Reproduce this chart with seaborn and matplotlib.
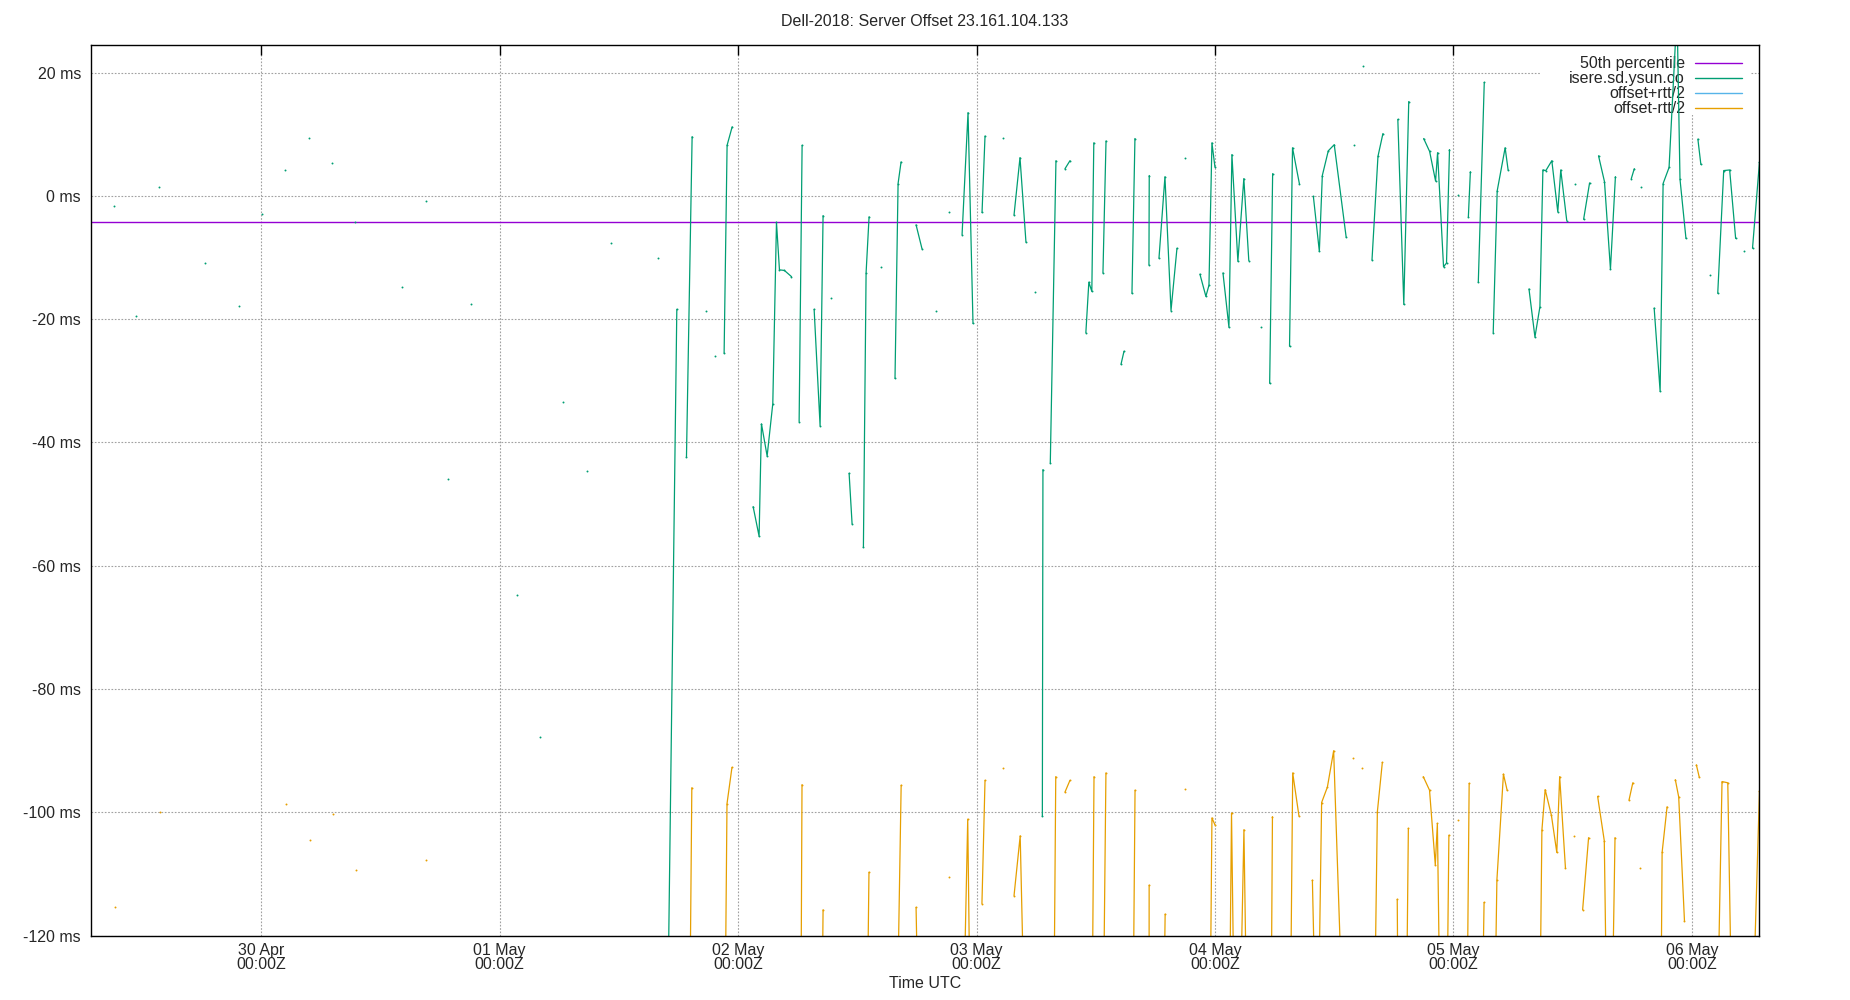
import numpy as np
import pandas as pd
import seaborn as sns
import matplotlib.pyplot as plt
from matplotlib.lines import Line2D
from matplotlib.patches import Rectangle

# time in hours relative to 2018-05-02 00:00 UTC, values in ms
base_time = pd.Timestamp('2018-05-02 00:00')
x_range_h = (-65.15, 102.75)
y_range_ms = (-120, 24.5)
p50_ms = -4.25

# isere.sd.ysun.co offset, one inner list per unbroken run of samples
offset_segments = [
    [(-62.8, -1.7)], [(-60.6, -19.5)], [(-58.3, 1.5)], [(-53.7, -10.9)],
    [(-50.2, -17.8)], [(-47.9, -2.9)], [(-45.6, 4.2)], [(-43.2, 9.4)],
    [(-40.9, 5.4)], [(-38.6, -4.2)], [(-33.8, -14.8)], [(-31.4, -0.8)],
    [(-29.2, -46.0)], [(-26.9, -17.6)], [(-22.3, -64.7)], [(-19.9, -87.8)],
    [(-17.6, -33.4)], [(-15.2, -44.6)], [(-12.8, -7.7)], [(-8.1, -10.0)],
    [(-7.1, -135.0), (-6.17, -18.4)],
    [(-5.2, -42.4), (-4.63, 9.6)],
    [(-3.22, -18.7)], [(-2.31, -25.9)],
    [(-1.41, -25.5), (-1.11, 8.2), (-0.60, 11.2)],
    [(1.51, -50.4), (2.11, -55.2), (2.35, -37.0), (2.92, -42.2), (3.49, -33.7),
     (3.86, -4.3), (4.16, -12.0), (4.66, -12.1), (5.37, -13.1)],
    [(6.14, -36.6), (6.44, 8.2)],
    [(7.65, -18.4), (8.25, -37.3), (8.55, -3.2)],
    [(9.36, -16.6)],
    [(11.17, -45.0), (11.47, -53.2)],
    [(12.61, -57.0), (12.88, -12.5), (13.18, -3.4)],
    [(14.39, -11.5)],
    [(15.79, -29.6), (16.10, 2.0), (16.40, 5.5)],
    [(17.91, -4.7), (18.51, -8.6)],
    [(19.92, -18.7)], [(21.23, -2.6)],
    [(22.54, -6.3), (23.14, 13.5), (23.64, -20.7)],
    [(24.55, -2.7), (24.85, 9.7)],
    [(26.66, 9.4)],
    [(27.77, -3.1), (28.37, 6.2), (28.97, -7.5)],
    [(29.88, -15.6)],
    [(30.62, -100.6), (30.68, -44.4)],
    [(31.42, -43.3), (31.99, 5.7)],
    [(32.9, 4.4), (33.4, 5.7)],
    [(35.0, -22.2), (35.3, -14.0), (35.6, -15.5), (35.8, 8.6)],
    [(36.72, -12.5), (37.03, 8.9)],
    [(38.54, -27.3), (38.84, -25.2)],
    [(39.64, -15.8), (39.94, 9.3)],
    [(41.35, -11.2), (41.38, 3.3)],
    [(42.36, -10.1), (42.96, 3.1), (43.57, -18.6), (44.17, -8.5)],
    [(44.97, 6.2)],
    [(46.48, -12.7), (47.08, -16.3), (47.39, -14.5), (47.69, 8.6), (47.99, 4.7)],
    [(48.8, -12.5), (49.4, -21.3), (49.7, 6.7), (50.3, -10.6), (50.9, 2.8), (51.4, -10.5)],
    [(52.6, -21.3)],
    [(53.5, -30.4), (53.8, 3.6)],
    [(55.5, -24.4), (55.8, 7.8), (56.5, 1.9)],
    [(57.9, -0.1), (58.5, -9.0), (58.8, 3.3), (59.4, 7.3), (60.0, 8.3), (61.2, -6.7)],
    [(62.0, 8.3)], [(62.9, 21.1)],
    [(63.8, -10.4), (64.4, 6.4), (64.9, 10.1)],
    [(66.4, 12.4), (67.0, -17.6), (67.5, 15.3)],
    [(69.0, 9.3), (69.6, 7.2), (70.2, 2.4), (70.4, 7.0), (71.0, -11.5), (71.3, -10.9), (71.6, 7.5)],
    [(72.5, 0.1)],
    [(73.5, -3.4), (73.7, 3.9)],
    [(74.5, -14.0), (75.1, 18.4)],
    [(76.0, -22.2), (76.4, 0.8), (77.2, 7.8), (77.5, 4.2)],
    [(79.6, -15.1), (80.2, -22.9), (80.7, -18.0), (81.0, 4.2), (81.3, 4.1), (81.9, 5.7),
     (82.5, -2.6), (82.8, 4.2), (83.4, -4.0)],
    [(84.2, 2.0)],
    [(85.1, -3.8), (85.7, 2.1)],
    [(86.6, 6.5), (87.2, 2.3), (87.8, -11.9), (88.3, 3.1)],
    [(89.9, 2.8), (90.2, 4.4)],
    [(90.9, 1.5)],
    [(92.2, -18.2), (92.8, -31.7), (93.1, 2.0), (93.7, 4.6), (94.5, 30.0), (94.8, 2.7), (95.4, -6.9)],
    [(96.6, 9.2), (96.9, 5.1)],
    [(97.8, -12.8)],
    [(98.6, -15.8), (99.2, 4.1), (99.8, 4.2), (100.4, -6.9)],
    [(101.2, -8.9)],
    [(102.1, -8.5), (102.8, 5.5)],
]

# offset - rtt/2, mostly below the visible range
low_segments = [
    [(-62.7, -115.4)], [(-58.2, -100.0)], [(-45.5, -98.6)], [(-43.1, -104.5)],
    [(-40.8, -100.3)], [(-38.5, -109.3)], [(-31.4, -107.8)],
    [(-4.9, -140), (-4.66, -96.0)],
    [(-1.35, -140), (-1.12, -98.6), (-0.62, -92.7)],
    [(6.3, -140), (6.43, -95.5)],
    [(8.4, -140), (8.55, -115.8)],
    [(12.95, -140), (13.17, -109.7)],
    [(15.95, -140), (16.41, -95.6)],
    [(17.91, -115.4), (18.2, -140)],
    [(21.2, -110.4)],
    [(22.6, -140), (23.11, -101.1), (23.4, -140)],
    [(24.54, -114.8), (24.85, -94.8)],
    [(26.66, -92.8)],
    [(27.77, -113.5), (28.39, -103.8), (28.9, -140)],
    [(31.75, -140), (31.97, -94.2)],
    [(32.9, -96.7), (33.4, -94.8)],
    [(35.6, -140), (35.82, -94.2)],
    [(36.72, -140), (37.02, -93.6)],
    [(39.72, -140), (39.95, -96.4)],
    [(41.36, -140), (41.37, -111.8)],
    [(42.78, -140), (42.98, -116.5)],
    [(44.97, -96.2)],
    [(47.47, -140), (47.69, -100.9), (47.99, -102.0)],
    [(49.42, -140), (49.66, -100.1), (49.98, -140)],
    [(50.45, -140), (50.91, -102.8), (51.25, -140)],
    [(53.62, -140), (53.78, -100.7)],
    [(55.55, -140), (55.82, -93.6), (56.45, -100.6)],
    [(57.8, -111.0), (58.2, -140)],
    [(58.35, -140), (58.73, -98.4), (59.31, -95.9), (59.94, -90.0), (60.98, -140)],
    [(61.93, -91.1)], [(62.8, -92.8)],
    [(64.0, -140), (64.34, -99.9), (64.84, -91.9)],
    [(66.34, -114.1), (66.45, -140)],
    [(67.22, -140), (67.46, -102.6)],
    [(68.96, -94.2), (69.59, -96.4), (70.17, -108.5), (70.38, -101.8), (70.7, -140)],
    [(71.3, -140), (71.54, -103.7)],
    [(72.46, -101.2)],
    [(73.33, -140), (73.58, -95.3)],
    [(74.83, -140), (75.08, -114.6)],
    [(76.1, -140), (76.37, -111.0), (77.03, -93.8), (77.4, -96.4)],
    [(80.65, -140), (80.9, -102.9), (81.23, -96.3), (81.86, -100.5), (82.4, -106.5),
     (82.69, -94.2), (83.27, -109.0)],
    [(84.1, -103.8)],
    [(85.0, -115.8), (85.6, -104.1)],
    [(86.51, -97.4), (87.18, -104.6), (87.48, -140)],
    [(87.9, -140), (88.26, -104.1)],
    [(89.67, -98.0), (90.05, -95.2)],
    [(90.8, -109.1)],
    [(92.85, -140), (93.0, -106.5), (93.5, -99.1)],
    [(94.33, -94.7), (94.67, -97.5), (95.25, -117.6)],
    [(96.45, -92.3), (96.74, -94.3)],
    [(98.5, -140), (99.03, -95.0), (99.61, -95.2), (100.08, -140)],
    [(102.0, -140), (102.8, -96.5)],
]

legend_labels = ['50th percentile', 'isere.sd.ysun.co', 'offset+rtt/2', 'offset-rtt/2']
colors = ['#9400d3', '#009e73', '#56b4e9', '#e69f00']


def to_frame(segments):
    rows = []
    for i, seg in enumerate(segments):
        for h, v in seg:
            rows.append((base_time + pd.Timedelta(hours=h), v, i))
    return pd.DataFrame(rows, columns=['time', 'ms', 'seg'])


sns.set_style('white')
plt.rcParams['font.family'] = ['Liberation Sans', 'DejaVu Sans']
plt.rcParams['font.size'] = 11.5

fig = plt.figure(figsize=(18.5, 10), dpi=100)
ax = fig.add_axes([0.0491, 0.0643, 0.9017, 0.8909])
ax.set_axisbelow(True)

# key area blanks the grid behind it, like gnuplot does
ax.add_patch(Rectangle((0.8687, 0.9212), 0.126, 0.0788, transform=ax.transAxes,
                       facecolor='white', edgecolor='none', zorder=1))

ax.axhline(p50_ms, color=colors[0], lw=1.0, zorder=3)

for segs, col in [(offset_segments, colors[1]), (low_segments, colors[3])]:
    df = to_frame(segs)
    sns.lineplot(data=df, x='time', y='ms', units='seg', estimator=None,
                 color=col, lw=0.9, marker='o', markersize=1.4,
                 markeredgewidth=0, ax=ax, legend=False, zorder=4)

ax.set_xlim(base_time + pd.Timedelta(hours=x_range_h[0]),
            base_time + pd.Timedelta(hours=x_range_h[1]))
ax.set_ylim(*y_range_ms)

days = pd.date_range('2018-04-30', '2018-05-06', freq='D')
ax.set_xticks(days)
ax.set_xticklabels([d.strftime('%d %b\n%H:%MZ') for d in days], linespacing=0.95)
yt = np.arange(-120, 21, 20)
ax.set_yticks(yt)
ax.set_yticklabels([f'{v} ms' for v in yt])

ax.grid(True, color='#a0a0a0', linestyle=(0, (1.5, 1.5)), lw=0.8)
ax.tick_params(direction='in', length=7, width=1, top=True, right=False,
               color='black', labelsize=11.5)
ax.tick_params(axis='x', pad=5)
ax.tick_params(axis='y', pad=7)
for s in ax.spines.values():
    s.set_color('black')
    s.set_linewidth(1)
    s.set_zorder(5)

ax.set_xlabel('Time UTC', labelpad=3)
ax.set_ylabel('')
fig.text(0.5, 0.979, 'Dell-2018: Server Offset 23.161.104.133',
         ha='center', va='center', fontsize=11.5)

rows_y = [0.9792, 0.9624, 0.9456, 0.9287]
for lbl, col, yy in zip(legend_labels, colors, rows_y):
    ax.text(0.9556, yy, lbl, transform=ax.transAxes, ha='right', va='center',
            fontsize=11.5, zorder=2)
    ax.add_line(Line2D([0.9617, 0.9896], [yy, yy], transform=ax.transAxes,
                       color=col, lw=1.0, zorder=2))

fig.savefig('out.png', dpi=100)
